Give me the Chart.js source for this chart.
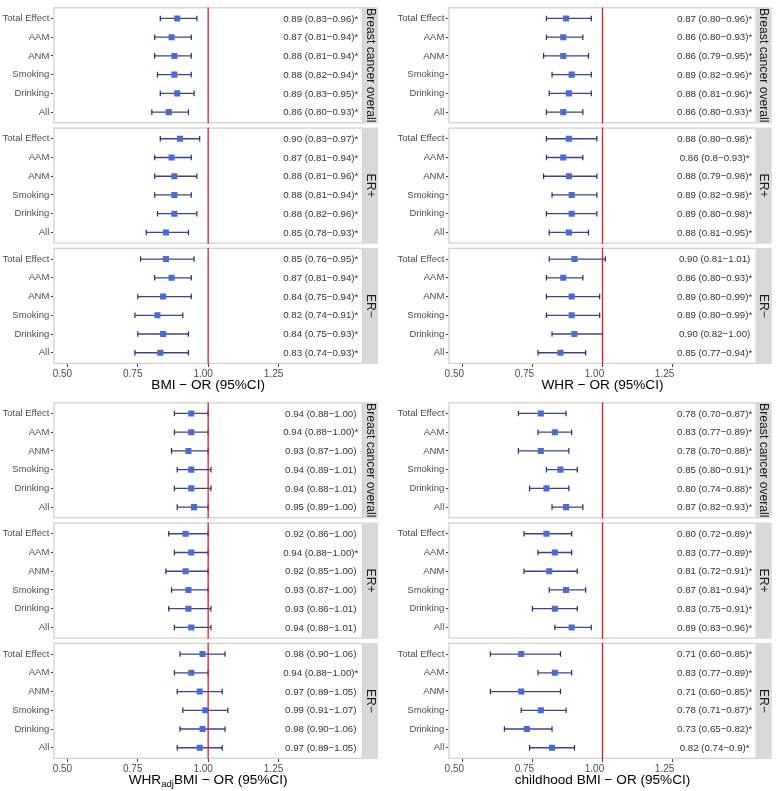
<!DOCTYPE html>
<html><head><meta charset="utf-8">
<script src="https://cdn.jsdelivr.net/npm/chart.js@4"></script>
<style>
html,body{margin:0;padding:0;background:#fff;}
#wrap{position:relative;width:780px;height:791px;overflow:hidden;background:#fff;}
canvas{position:absolute;}
</style></head><body>
<div id="wrap">
<canvas id="c1" width="390" height="395" style="left:0;top:0"></canvas>
<canvas id="c2" width="390" height="395" style="left:390px;top:0"></canvas>
<canvas id="c3" width="390" height="396" style="left:0;top:395px"></canvas>
<canvas id="c4" width="390" height="396" style="left:390px;top:395px"></canvas>
</div>
<script>
// ---------- data ----------
const rowNames = ['Total Effect','AAM','ANM','Smoking','Drinking','All'];
const facetNames = ['Breast cancer overall','ER+','ER−'];
const xTickValues = [0.5, 0.75, 1.0, 1.25];

// BMI
const bmiOR    = [0.89,0.87,0.88,0.88,0.89,0.86, 0.90,0.87,0.88,0.88,0.88,0.85, 0.85,0.87,0.84,0.82,0.84,0.83];
const bmiLower = [0.83,0.81,0.81,0.82,0.83,0.80, 0.83,0.81,0.81,0.81,0.82,0.78, 0.76,0.81,0.75,0.74,0.75,0.74];
const bmiUpper = [0.96,0.94,0.94,0.94,0.95,0.93, 0.97,0.94,0.96,0.94,0.96,0.93, 0.95,0.94,0.94,0.91,0.93,0.93];
const bmiText = ['0.89 (0.83−0.96)*','0.87 (0.81−0.94)*','0.88 (0.81−0.94)*','0.88 (0.82−0.94)*','0.89 (0.83−0.95)*','0.86 (0.80−0.93)*',
  '0.90 (0.83−0.97)*','0.87 (0.81−0.94)*','0.88 (0.81−0.96)*','0.88 (0.81−0.94)*','0.88 (0.82−0.96)*','0.85 (0.78−0.93)*',
  '0.85 (0.76−0.95)*','0.87 (0.81−0.94)*','0.84 (0.75−0.94)*','0.82 (0.74−0.91)*','0.84 (0.75−0.93)*','0.83 (0.74−0.93)*'];

// WHR
const whrOR    = [0.87,0.86,0.86,0.89,0.88,0.86, 0.88,0.86,0.88,0.89,0.89,0.88, 0.90,0.86,0.89,0.89,0.90,0.85];
const whrLower = [0.80,0.80,0.79,0.82,0.81,0.80, 0.80,0.80,0.79,0.82,0.80,0.81, 0.81,0.80,0.80,0.80,0.82,0.77];
const whrUpper = [0.96,0.93,0.95,0.96,0.96,0.93, 0.98,0.93,0.98,0.98,0.98,0.95, 1.01,0.93,0.99,0.99,1.00,0.94];
const whrText = ['0.87 (0.80−0.96)*','0.86 (0.80−0.93)*','0.86 (0.79−0.95)*','0.89 (0.82−0.96)*','0.88 (0.81−0.96)*','0.86 (0.80−0.93)*',
  '0.88 (0.80−0.98)*','0.86 (0.8−0.93)*','0.88 (0.79−0.98)*','0.89 (0.82−0.98)*','0.89 (0.80−0.98)*','0.88 (0.81−0.95)*',
  '0.90 (0.81−1.01)','0.86 (0.80−0.93)*','0.89 (0.80−0.99)*','0.89 (0.80−0.99)*','0.90 (0.82−1.00)','0.85 (0.77−0.94)*'];

// WHRadjBMI
const whradjOR    = [0.94,0.94,0.93,0.94,0.94,0.95, 0.92,0.94,0.92,0.93,0.93,0.94, 0.98,0.94,0.97,0.99,0.98,0.97];
const whradjLower = [0.88,0.88,0.87,0.89,0.88,0.89, 0.86,0.88,0.85,0.87,0.86,0.88, 0.90,0.88,0.89,0.91,0.90,0.89];
const whradjUpper = [1.00,1.00,1.00,1.01,1.01,1.00, 1.00,1.00,1.00,1.00,1.01,1.01, 1.06,1.00,1.05,1.07,1.06,1.05];
const whradjText = ['0.94 (0.88−1.00)','0.94 (0.88−1.00)*','0.93 (0.87−1.00)','0.94 (0.89−1.01)','0.94 (0.88−1.01)','0.95 (0.89−1.00)',
  '0.92 (0.86−1.00)','0.94 (0.88−1.00)*','0.92 (0.85−1.00)','0.93 (0.87−1.00)','0.93 (0.86−1.01)','0.94 (0.88−1.01)',
  '0.98 (0.90−1.06)','0.94 (0.88−1.00)*','0.97 (0.89−1.05)','0.99 (0.91−1.07)','0.98 (0.90−1.06)','0.97 (0.89−1.05)'];

// childhood BMI
const cbmiOR    = [0.78,0.83,0.78,0.85,0.80,0.87, 0.80,0.83,0.81,0.87,0.83,0.89, 0.71,0.83,0.71,0.78,0.73,0.82];
const cbmiLower = [0.70,0.77,0.70,0.80,0.74,0.82, 0.72,0.77,0.72,0.81,0.75,0.83, 0.60,0.77,0.60,0.71,0.65,0.74];
const cbmiUpper = [0.87,0.89,0.88,0.91,0.88,0.93, 0.89,0.89,0.91,0.94,0.91,0.96, 0.85,0.89,0.85,0.87,0.82,0.90];
const cbmiText = ['0.78 (0.70−0.87)*','0.83 (0.77−0.89)*','0.78 (0.70−0.88)*','0.85 (0.80−0.91)*','0.80 (0.74−0.88)*','0.87 (0.82−0.93)*',
  '0.80 (0.72−0.89)*','0.83 (0.77−0.89)*','0.81 (0.72−0.91)*','0.87 (0.81−0.94)*','0.83 (0.75−0.91)*','0.89 (0.83−0.96)*',
  '0.71 (0.60−0.85)*','0.83 (0.77−0.89)*','0.71 (0.60−0.85)*','0.78 (0.71−0.87)*','0.73 (0.65−0.82)*','0.82 (0.74−0.9)*'];

// ---------- rendering ----------
const FONT = "'Liberation Sans', Arial, Helvetica, sans-serif";
Chart.defaults.font.family = FONT;
const STEP = 6.42;           // facet spacing in row units
const LABEL_X = 1.4;         // x value where estimate text is centred
function rowY(i){ return Math.floor(i/6)*STEP + (i%6); }

const decor = {
  id: 'decor',
  beforeDatasetsDraw(chart, args, opts){
    const {ctx, chartArea:a, scales:{y}} = chart;
    ctx.save();
    ctx.strokeStyle = '#d2d2d2'; ctx.lineWidth = 1.3;
    for (let f=0; f<3; f++){
      const t = y.getPixelForValue(f*STEP-0.6), b = y.getPixelForValue(f*STEP+5.6);
      ctx.strokeRect(a.left+0.6, t+0.6, a.right-a.left-1.2, b-t-1.2);
    }
    ctx.restore();
  },
  afterDatasetsDraw(chart, args, opts){
    const {ctx, chartArea:a, scales:{x,y}} = chart;
    ctx.save();
    // strips
    for (let f=0; f<3; f++){
      const t = y.getPixelForValue(f*STEP-0.6), b = y.getPixelForValue(f*STEP+5.6);
      ctx.fillStyle = '#d9d9d9';
      ctx.fillRect(a.right, t, 15, b-t);
      ctx.save();
      ctx.translate(a.right+7.5, (t+b)/2);
      ctx.rotate(Math.PI/2);
      ctx.fillStyle = '#1a1a1a';
      ctx.font = '12.2px '+FONT;
      ctx.textAlign = 'center'; ctx.textBaseline = 'middle';
      ctx.fillText(facetNames[f], 0, 0.5);
      ctx.restore();
    }
    // estimate texts
    ctx.fillStyle = '#333333';
    ctx.font = '9.7px '+FONT;
    ctx.textAlign = 'center'; ctx.textBaseline = 'middle';
    const lx = x.getPixelForValue(LABEL_X);
    opts.text.forEach((s,i)=>{ ctx.fillText(s, lx, y.getPixelForValue(rowY(i))+0.5); });
    // axis title
    const parts = opts.title;
    const big = '13.6px '+FONT, small = '9.6px '+FONT;
    let total = 0;
    parts.forEach(p=>{ ctx.font = p.sub ? small : big; p.w = ctx.measureText(p.t).width; total += p.w; });
    let cx = (a.left+a.right)/2 - total/2;
    const ty = a.bottom + 21;
    ctx.fillStyle = '#000';
    ctx.textAlign = 'left'; ctx.textBaseline = 'middle';
    parts.forEach(p=>{ ctx.font = p.sub ? small : big; ctx.fillText(p.t, cx, p.sub ? ty+4 : ty); cx += p.w; });
    ctx.restore();
  }
};

function makeChart(id, cfg){
  const canvas = document.getElementById(id);
  const pts = cfg.or.map((v,i)=>({x:v, y:rowY(i)}));
  const whisk = [], caps = [];
  cfg.lo.forEach((l,i)=>{
    const yy = rowY(i);
    whisk.push({x:l, y:yy}, {x:cfg.hi[i], y:yy}, {x:null, y:null});
    caps.push({x:l, y:yy}, {x:cfg.hi[i], y:yy});
  });
  const ref = [];
  for (let f=0; f<3; f++) ref.push({x:1, y:f*STEP-0.6}, {x:1, y:f*STEP+5.6}, {x:null, y:null});
  const yTicks = rowNames.concat(rowNames, rowNames).map((n,i)=>rowY(i));

  new Chart(canvas, {
    type: 'scatter',
    data: { datasets: [
      { data: pts, pointStyle:'rect', radius:4.3, backgroundColor:'#4a6ad6', borderColor:'#4a6ad6', borderWidth:0, showLine:false },
      { data: ref, showLine:true, spanGaps:false, borderColor:'#d42020', borderWidth:1.3, pointRadius:0 },
      { data: caps, pointStyle:'line', rotation:90, radius:2.8, borderColor:'#262c6e', borderWidth:1.2, showLine:false },
      { data: whisk, showLine:true, spanGaps:false, borderColor:'#3a4592', borderWidth:1.3, pointRadius:0 }
    ]},
    options: {
      responsive:false, animation:false, events:[],
      layout: { padding: { top:6, right:cfg.padR, left:0, bottom:0 } },
      plugins: { legend:{display:false}, tooltip:{enabled:false},
        decor: { text: cfg.text, title: cfg.title } },
      scales: {
        x: {
          type:'linear', min:0.45, max:1.55, bounds:'data',
          afterBuildTicks: s => { s.ticks = xTickValues.map(v=>({value:v})); },
          afterFit: s => { s.height = cfg.xH; },
          ticks: { callback: v => v.toFixed(2), color:'#4d4d4d', font:{size:10}, padding:1, maxRotation:0, autoSkip:false, labelOffset:cfg.lblOff },
          grid: { drawOnChartArea:false, drawTicks:true, tickLength:3, color:'#444' },
          border: { display:false }
        },
        y: {
          type:'linear', reverse:true, min:-0.6, max:2*STEP+5.6, bounds:'data',
          afterBuildTicks: s => { s.ticks = yTicks.map(v=>({value:v})); },
          afterFit: s => { s.width = cfg.yW; },
          ticks: { callback: (v,i) => rowNames[i%6], color:'#4d4d4d', font:{size:9.5}, padding:1.5, autoSkip:false },
          grid: { drawOnChartArea:false, drawTicks:true, tickLength:2.5, color:'#444' },
          border: { display:false }
        }
      }
    },
    plugins: [decor]
  });
}

makeChart('c1', { or:bmiOR, lo:bmiLower, hi:bmiUpper, text:bmiText, title:[{t:'BMI − OR (95%CI)'}], yW:53.3, padR:27, xH:31, lblOff:-5 });
makeChart('c2', { or:whrOR, lo:whrLower, hi:whrUpper, text:whrText, title:[{t:'WHR − OR (95%CI)'}], yW:58.3, padR:23.3, xH:31, lblOff:-8 });
makeChart('c3', { or:whradjOR, lo:whradjLower, hi:whradjUpper, text:whradjText, title:[{t:'WHR'},{t:'adj',sub:true},{t:'BMI − OR (95%CI)'}], yW:53.3, padR:27, xH:32, lblOff:-5 });
makeChart('c4', { or:cbmiOR, lo:cbmiLower, hi:cbmiUpper, text:cbmiText, title:[{t:'childhood BMI − OR (95%CI)'}], yW:58.3, padR:23.3, xH:32, lblOff:-8 });
</script>
</body></html>
